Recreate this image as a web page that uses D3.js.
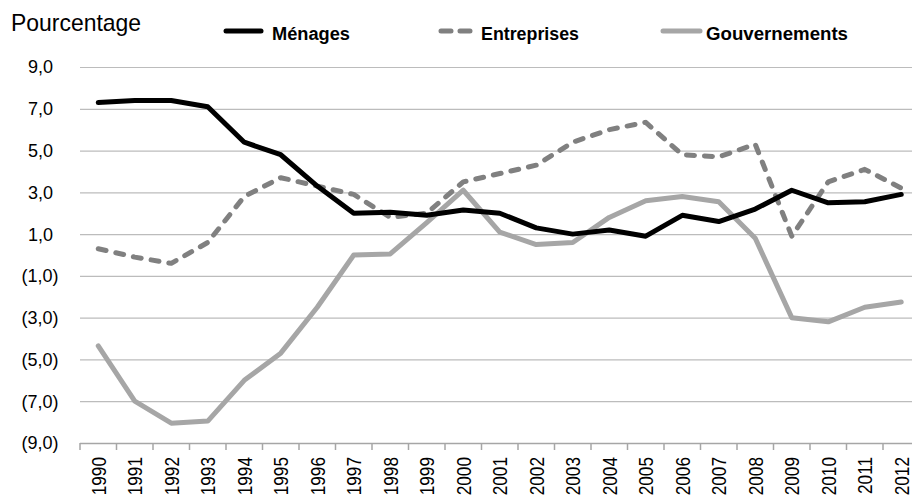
<!DOCTYPE html>
<html>
<head>
<meta charset="utf-8">
<script src="https://cdn.jsdelivr.net/npm/d3@7"></script>
<style>
  body { margin: 0; background: #fff; }
  svg { display: block; }
</style>
</head>
<body>
<div id="chart"></div>
<script>
'use strict'

//---------------------------Datos--------------------------------//
var annees = ['1990', '1991', '1992', '1993', '1994', '1995', '1996', '1997', '1998', '1999', '2000', '2001',
  '2002', '2003', '2004', '2005', '2006', '2007', '2008', '2009', '2010', '2011', '2012'];

var menages = [7.3, 7.4, 7.4, 7.1, 5.4, 4.8, 3.3, 2.0, 2.05, 1.9, 2.15, 2.0,
  1.3, 1.0, 1.2, 0.9, 1.9, 1.6, 2.2, 3.1, 2.5, 2.55, 2.9];

var entreprises = [0.3, -0.1, -0.4, 0.6, 2.8, 3.7, 3.3, 2.9, 1.8, 2.0, 3.5, 3.9,
  4.3, 5.4, 6.0, 6.35, 4.8, 4.7, 5.3, 0.9, 3.5, 4.1, 3.2];

var gouvernements = [-4.35, -7.0, -8.05, -7.95, -6.0, -4.7, -2.5, 0.0, 0.05, 1.55, 3.1, 1.1,
  0.5, 0.6, 1.8, 2.6, 2.8, 2.55, 0.8, -3.0, -3.2, -2.5, -2.25];

var yTicks = [9, 7, 5, 3, 1, -1, -3, -5, -7, -9];

var series = [
  { nom: 'Ménages', valeurs: menages, couleur: '#000000', dash: null },
  { nom: 'Entreprises', valeurs: entreprises, couleur: '#808080', dash: '8,10' },
  { nom: 'Gouvernements', valeurs: gouvernements, couleur: '#a6a6a6', dash: null }
];

//---------------------------Dimensiones--------------------------------//
var width = 912, height = 504;
var margeG = 80, hautY = 67, basY = 443;
var bandW = 36.5;

var x = d3.scaleBand().domain(annees).range([margeG, margeG + bandW * annees.length]).padding(0);
var y = d3.scaleLinear().domain([-9, 9]).range([basY, hautY]);

var svg = d3.select('#chart').append('svg')
  .attr('width', width)
  .attr('height', height);

// Lineas de la cuadricula
svg.append('g').selectAll('line')
  .data(yTicks.filter(function (d) { return d !== -9; }))
  .enter().append('line')
  .attr('x1', margeG).attr('x2', width)
  .attr('y1', function (d) { return y(d) + 0.5; })
  .attr('y2', function (d) { return y(d) + 0.5; })
  .attr('stroke', '#bcbcbc')
  .attr('stroke-width', 1.2);

// Etiquetas del eje Y (los negativos entre parentesis, el ")" sobresale)
function formato(d) {
  var s = Math.abs(d).toFixed(1).replace('.', ',');
  return d < 0 ? '(' + s + ')' : s;
}
svg.append('g').selectAll('text')
  .data(yTicks)
  .enter().append('text')
  .attr('x', function (d) { return d < 0 ? 58.5 : 53; })
  .attr('y', function (d) { return y(d); })
  .attr('dy', '0.36em')
  .attr('text-anchor', 'end')
  .style('font-family', '"Liberation Sans", Arial, sans-serif')
  .style('font-size', '18px')
  .style('fill', '#000')
  .text(formato);

// Eje X
svg.append('line')
  .attr('x1', margeG).attr('x2', width)
  .attr('y1', basY + 0.5).attr('y2', basY + 0.5)
  .attr('stroke', '#a6a6a6')
  .attr('stroke-width', 1.5);

svg.append('g').selectAll('line')
  .data(annees)
  .enter().append('line')
  .attr('x1', function (d) { return x(d); })
  .attr('x2', function (d) { return x(d); })
  .attr('y1', basY)
  .attr('y2', basY + 7)
  .attr('stroke', '#a6a6a6')
  .attr('stroke-width', 1.5);

svg.append('g').selectAll('text')
  .data(annees)
  .enter().append('text')
  .attr('transform', function (d) {
    return 'translate(' + (x(d) + x.bandwidth() / 2) + ',' + 457 + ') rotate(-90) scale(0.82,1)';
  })
  .attr('dy', '0.36em')
  .attr('text-anchor', 'end')
  .style('font-family', '"Liberation Sans", Arial, sans-serif')
  .style('font-size', '21px')
  .style('fill', '#000')
  .text(function (d) { return d; });

// Lineas
var linea = d3.line()
  .x(function (d, i) { return x(annees[i]) + x.bandwidth() / 2; })
  .y(function (d) { return y(d); });

// orden de dibujo: gobiernos, empresas, hogares
[series[2], series[1], series[0]].forEach(function (s) {
  svg.append('path')
    .datum(s.valeurs)
    .attr('fill', 'none')
    .attr('stroke', s.couleur)
    .attr('stroke-width', 5)
    .attr('stroke-linejoin', 'round')
    .attr('stroke-linecap', 'round')
    .attr('stroke-dasharray', s.dash)
    .attr('d', linea);
});

// Titulo del eje
svg.append('text')
  .attr('x', 11)
  .attr('y', 31)
  .attr('textLength', 130)
  .attr('lengthAdjust', 'spacingAndGlyphs')
  .style('font-family', '"Liberation Sans", Arial, sans-serif')
  .style('font-size', '24px')
  .style('fill', '#000')
  .text('Pourcentage');

// Leyenda
var leyenda = [
  { x1: 226, x2: 261, tx: 272, tw: 78 },
  { x1: 441, x2: 470, tx: 481, tw: 98 },
  { x1: 663, x2: 700, tx: 706, tw: 142 }
];
series.forEach(function (s, i) {
  var p = leyenda[i];
  svg.append('line')
    .attr('x1', p.x1).attr('x2', p.x2)
    .attr('y1', 31).attr('y2', 31)
    .attr('stroke', s.couleur)
    .attr('stroke-width', 5)
    .attr('stroke-linecap', 'round')
    .attr('stroke-dasharray', s.dash ? '10,9' : null);
  svg.append('text')
    .attr('x', p.tx)
    .attr('y', 40)
    .attr('textLength', p.tw)
    .attr('lengthAdjust', 'spacingAndGlyphs')
    .style('font-family', '"Liberation Sans", Arial, sans-serif')
    .style('font-weight', 'bold')
    .style('font-size', '18px')
    .style('fill', '#000')
    .text(s.nom);
});
</script>
</body>
</html>
